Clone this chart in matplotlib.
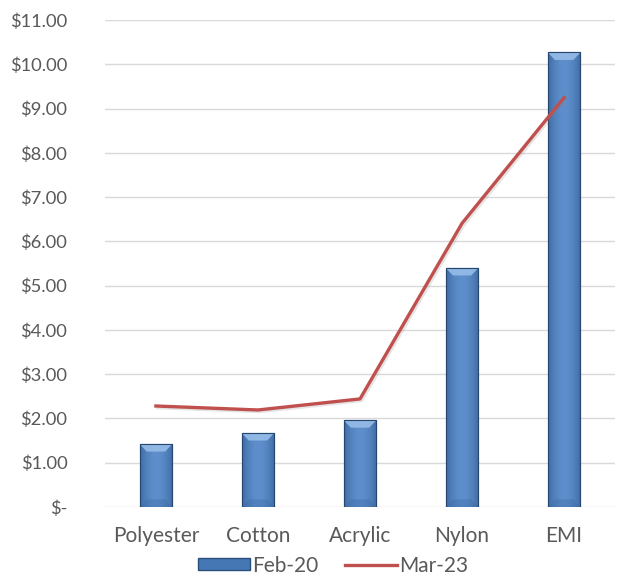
import matplotlib
matplotlib.use("Agg")
import matplotlib.pyplot as plt
import matplotlib.patheffects as pe
from matplotlib.patches import Polygon, Patch
from matplotlib.lines import Line2D
from matplotlib.ticker import FuncFormatter
from matplotlib.colors import LinearSegmentedColormap
import numpy as np

categories = ["Polyester", "Cotton", "Acrylic", "Nylon", "EMI"]
feb20 = [1.42, 1.67, 1.96, 5.40, 10.27]
mar23 = [2.28, 2.19, 2.44, 6.41, 9.25]
yticks = list(range(0, 12))

plt.rcParams['font.family'] = ['Lato', 'DejaVu Sans']
text_color = '#595959'

fig = plt.figure(figsize=(6.17, 5.76), dpi=100)
ax = fig.add_axes([0.170, 0.120, 0.827, 0.845])

x = np.arange(len(categories))
bw = 0.32
bars = ax.bar(x, feb20, width=bw, color='#4677b5', edgecolor='#2a4f7c',
              linewidth=0.8, zorder=2, label='Feb-20')

grad = np.linspace(0, 1, 64)
prof = 0.45 + 0.55 * np.sin(np.pi * (grad * 0.9 + 0.05))
cmap = LinearSegmentedColormap.from_list('b', ['#1d4478', '#5e8fcc'])
for rect, v in zip(bars, feb20):
    x0 = rect.get_x(); w = rect.get_width()
    im = ax.imshow(prof[None, :], extent=(x0, x0 + w, 0, v), aspect='auto',
                   cmap=cmap, vmin=0, vmax=1, zorder=2.1, interpolation='bicubic')
    im.set_clip_path(rect)
    bh = 0.17
    bx = w * 0.22
    top = Polygon([(x0, v), (x0 + w, v), (x0 + w - bx, v - bh), (x0 + bx, v - bh)],
                  closed=True, facecolor='#97bde8', edgecolor='none', zorder=2.2, alpha=0.9)
    ax.add_patch(top)
    bot = Polygon([(x0, 0), (x0 + w, 0), (x0 + w - bx, bh), (x0 + bx, bh)],
                  closed=True, facecolor='#3a6aa6', edgecolor='none', zorder=2.2, alpha=0.35)
    ax.add_patch(bot)
    ax.add_patch(plt.Rectangle((x0, 0), w, v, facecolor='none', edgecolor='#24466f',
                               linewidth=0.8, zorder=2.3))

ax.plot(x, mar23, color='#c0504d', linewidth=2.4, zorder=3, label='Mar-23',
        path_effects=[pe.SimpleLineShadow(offset=(1.2, -1.2), shadow_color='gray', alpha=0.2),
                      pe.Normal()])

ax.set_xlim(-0.5, len(categories) - 0.5)
ax.set_ylim(0, 11)
ax.set_yticks(yticks)
ax.yaxis.set_major_formatter(FuncFormatter(lambda v, p: "$-" if v == 0 else f"${v:.2f}"))
ax.set_xticks(x)
ax.set_xticklabels(categories)
ax.grid(axis='y', color='#d9d9d9', linewidth=1.0, zorder=0)
ax.set_axisbelow(True)
for s in ax.spines.values():
    s.set_visible(False)
ax.tick_params(axis='y', length=0, labelsize=13.2, colors=text_color, pad=27)
ax.tick_params(axis='x', length=0, labelsize=15, colors=text_color, pad=14)

handles = [Patch(facecolor='#4677b5', edgecolor='#2a4f7c', label='Feb-20'),
           Line2D([0], [0], color='#c0504d', linewidth=2.4, label='Mar-23')]
leg = fig.legend(handles=handles, loc='center', bbox_to_anchor=(0.54, 0.018),
                 ncol=2, frameon=False, fontsize=15, handlelength=2.5,
                 handleheight=0.5, columnspacing=1.3, handletextpad=0.1,
                 labelcolor=text_color)

fig.savefig('out.png', dpi=100)
